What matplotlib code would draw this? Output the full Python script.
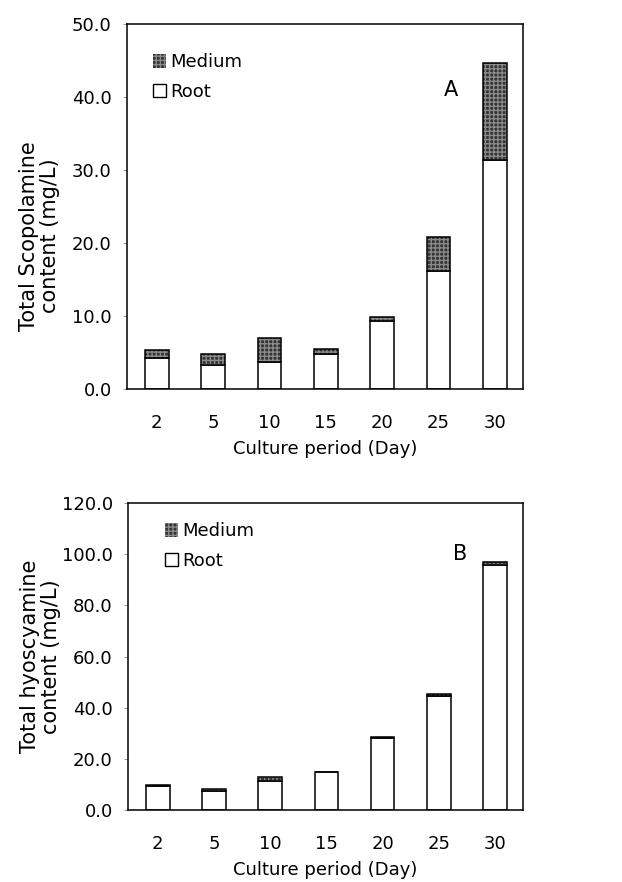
import matplotlib.pyplot as plt
from matplotlib.patches import Patch
import numpy as np

plt.rcParams['font.family'] = ['DejaVu Sans']

days = ['2', '5', '10', '15', '20', '25', '30']

# panel A: scopolamine (mg/L)
scop_root = [4.2, 3.3, 3.65, 4.75, 9.3, 16.1, 31.3]
scop_medium = [1.15, 1.5, 3.35, 0.75, 0.5, 4.7, 13.4]

# panel B: hyoscyamine (mg/L)
hyos_root = [9.5, 7.5, 11.4, 14.7, 28.0, 44.6, 95.7]
hyos_medium = [0.3, 0.7, 1.7, 0.3, 0.6, 0.9, 1.3]

FS = 13
MED_FACE = '#333333'
MED_HATCH = '#8a8a8a'


def panel(ax, root, medium, ymax, ystep, ylabel, ylab_y, tag, tagpos, legpos):
    x = np.arange(len(days))
    w = 0.42
    ax.bar(x, root, width=w, color='white', edgecolor='black', lw=1.1, zorder=2)
    # medium part: textured dark fill, then black outline on top
    ax.bar(x, medium, width=w, bottom=root, color=MED_FACE, edgecolor=MED_HATCH,
           hatch='++++', lw=0, zorder=2)
    ax.bar(x, medium, width=w, bottom=root, fill=False, edgecolor='black', lw=1.1, zorder=3)

    ax.set_xlim(-0.53, 6.5)
    ax.set_ylim(0, ymax)
    ticks = np.arange(0, ymax + 0.1, ystep)
    ax.set_yticks(ticks)
    ax.set_yticklabels(['%.1f' % v for v in ticks], fontsize=FS)
    ax.set_xticks(x)
    ax.set_xticklabels(days, fontsize=FS)
    ax.tick_params(axis='x', length=0, pad=18)
    ax.tick_params(axis='y', length=3, width=0.6, color='#888888', pad=8)
    for s in ax.spines.values():
        s.set_linewidth(1.1)
    ax.set_xlabel('Culture period (Day)', fontsize=FS, labelpad=6)
    ax.set_ylabel(ylabel, fontsize=15, linespacing=1.05)
    ax.yaxis.set_label_coords(-0.17, ylab_y)

    ax.text(tagpos[0], tagpos[1], tag, fontsize=FS + 2, transform=ax.transAxes,
            ha='center', va='center')

    handles = [Patch(facecolor=MED_FACE, edgecolor=MED_HATCH, hatch='++++', lw=0),
               Patch(facecolor='white', edgecolor='black', lw=1.0)]
    ax.legend(handles, ['Medium', 'Root'], loc='upper left', bbox_to_anchor=legpos,
              frameon=False, fontsize=FS, handlelength=0.75, handleheight=0.8,
              handletextpad=0.2, labelspacing=0.65, borderaxespad=0)


fig = plt.figure(figsize=(6.22, 8.82), dpi=100)

axA = fig.add_axes([0.2042, 0.559, 0.6367, 0.4138])
panel(axA, scop_root, scop_medium, 50, 10,
      'Total Scopolamine\ncontent (mg/L)', 0.42, 'A', (0.818, 0.818), (0.047, 0.94))

axB = fig.add_axes([0.2058, 0.0816, 0.635, 0.348])
panel(axB, hyos_root, hyos_medium, 120, 20,
      'Total hyoscyamine\ncontent (mg/L)', 0.5, 'B', (0.84, 0.835), (0.075, 0.962))

fig.savefig('out.png', dpi=100)
